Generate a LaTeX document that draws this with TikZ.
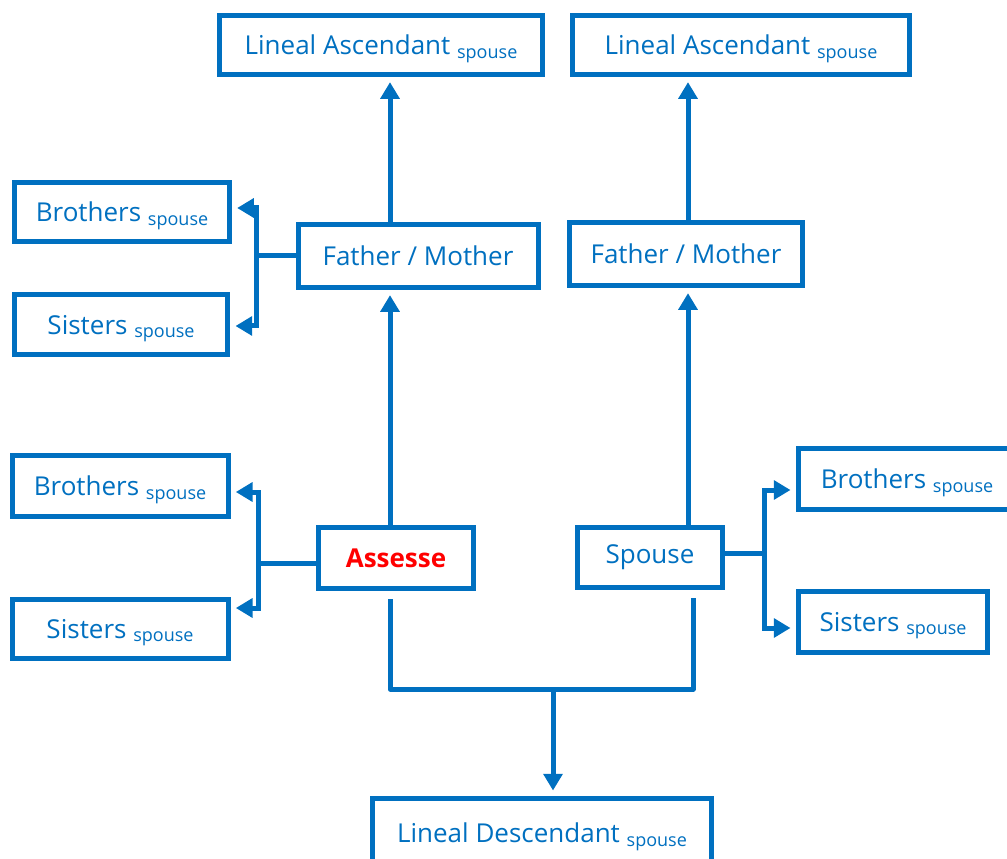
\documentclass[tikz,border=0pt]{standalone}
\usepackage{fontspec}
\setmainfont{Open Sans}
\usetikzlibrary{arrows.meta}
\definecolor{kinblue}{HTML}{0070C0}
\definecolor{selfred}{HTML}{FF0000}
\newcommand{\spousetag}{\smash{\raisebox{-2.5pt}{\fontsize{13.5}{13.5}\selectfont spouse}}}

\begin{document}
\begin{tikzpicture}[x=0.75pt,y=-0.75pt,
    kin/.style={draw=kinblue, line width=3.75pt, text=kinblue, fill=white,
      font=\fontsize{19.5}{22}\selectfont, inner sep=0pt},
    link/.style={draw=kinblue, line width=3.75pt},
    arr/.style={link, -{Triangle[length=12.5pt,width=14pt]}, shorten >=4pt}]
  \useasboundingbox (0,0) rectangle (1007,859);

  % upper row
  \node (asc1) [kin, minimum width=242pt, minimum height=44pt] at (381,45) {Lineal Ascendant \spousetag};
  \node (asc2) [kin, minimum width=253pt, minimum height=44pt] at (741,45) {Lineal Ascendant \spousetag};
  \node (par1) [kin, minimum width=180pt, minimum height=47pt] at (418,256) {Father / Mother};
  \node (par2) [kin, minimum width=175pt, minimum height=47pt] at (686,254) {Father / Mother};
  \node (bro1) [kin, minimum width=161pt, minimum height=44pt] at (122,212) {Brothers \spousetag};
  \node (sis1) [kin, minimum width=160pt, minimum height=45pt] at (121,325) {Sisters \spousetag};

  % middle row
  \node (bro2) [kin, minimum width=162pt, minimum height=46pt] at (120,486) {Brothers \spousetag};
  \node (sis2) [kin, minimum width=162pt, minimum height=44pt] at (120,629) {Sisters \spousetag};
  \node (self) [kin, minimum width=116pt, minimum height=46pt, text=selfred,
    font=\fontsize{19.5}{22}\selectfont\bfseries] at (396,558) {Assesse};
  \node (sp) [kin, minimum width=109pt, minimum height=45pt] at (650,557) {Spouse};
  \node (bro3) [kin, minimum width=163pt, minimum height=46pt] at (907,479) {Brothers \spousetag};
  \node (sis3) [kin, minimum width=142pt, minimum height=46pt] at (893,622) {Sisters \spousetag};

  % bottom
  \node (desc) [kin, minimum width=254pt, minimum height=52pt] at (542,833) {Lineal Descendant \spousetag};

  \coordinate (colL) at (390,0);
  \coordinate (colR) at (688,0);
  \coordinate (colS) at (693,0);
  \coordinate (forkL1) at (256,256);
  \coordinate (forkL2) at (258,563);
  \coordinate (forkR) at (764,553);
  \coordinate (join) at (553,689);

  % up the family line
  \draw[arr] (par1.north -| colL) -- (asc1.south -| colL);
  \draw[arr] (self.north -| colL) -- (par1.south -| colL);
  \draw[arr] (par2.north -| colR) -- (asc2.south -| colR);
  \draw[arr] (sp.north -| colR) -- (par2.south -| colR);

  % siblings
  \draw[link] (par1.west |- forkL1) -- (forkL1);
  \draw[arr] (forkL1) |- (bro1.east |- 0,208);
  \draw[arr] (forkL1) |- (sis1.east |- 0,326);
  \draw[link] (self.west |- forkL2) -- (forkL2);
  \draw[arr] (forkL2) |- (bro2.east |- 0,492);
  \draw[arr] (forkL2) |- (sis2.east |- 0,608);
  \draw[link] (sp.east |- forkR) -- (forkR);
  \draw[arr] (forkR) |- (bro3.west |- 0,490);
  \draw[arr] (forkR) |- (sis3.west |- 0,628);

  % children
  \draw[link, line join=round] ([yshift=-6pt]self.south -| colL) |- (join) -| ([yshift=-6pt]sp.south -| colS);
  \draw[arr] (join) -- (desc.north -| join);
\end{tikzpicture}
\end{document}
